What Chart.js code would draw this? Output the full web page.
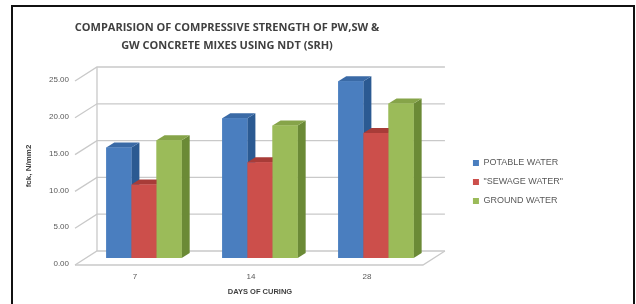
<!DOCTYPE html>
<html>
<head>
<meta charset="utf-8">
<script src="https://cdn.jsdelivr.net/npm/chart.js@4.4.1/dist/chart.umd.min.js"></script>
<style>
    html, body { margin: 0; padding: 0; background: #fff; }
    #wrap { position: relative; width: 636px; height: 304px; overflow: hidden; }
    #frame { position: absolute; left: 11px; top: 5px; width: 620px; height: 310px; border: 2px solid #111; border-bottom: none; }
    #myChart { position: absolute; left: 0; top: 0; }
</style>
</head>
<body>
<div id="wrap">
    <div id="frame"></div>
    <canvas id="myChart" width="636" height="304"></canvas>
</div>
<script>
// Data
const days = ['7', '14', '28'];
const potableWater = [15, 19, 24];
const sewageWater = [10, 13, 17];
const groundWater = [16, 18, 21];
const seriesNames = ['POTABLE WATER', '"SEWAGE WATER"', 'GROUND WATER'];
const titleLines = ['COMPARISION OF COMPRESSIVE STRENGTH OF PW,SW &', 'GW CONCRETE MIXES USING NDT (SRH)'];

// colours for front / side / top of the 3d bars
const frontColors = ['#4a7ebf', '#cc4f4b', '#9bbb59'];
const sideColors = ['#2b5a92', '#8e2f2c', '#6b8a36'];
const topColors = ['#3a6aa6', '#a83c38', '#86a449'];

// back wall, side wall and floor of the 3d box
const wallPlugin = {
    id: 'wall',
    beforeDatasetsDraw(chart) {
        const { ctx, chartArea: a, scales: { y } } = chart;
        const d = 11, e = 7;
        ctx.save();
        ctx.strokeStyle = '#c9c9c9';
        ctx.lineWidth = 1.3;
        y.ticks.forEach(t => {
            const py = y.getPixelForValue(t.value);
            ctx.beginPath();
            ctx.moveTo(a.left - d, py + e);
            ctx.lineTo(a.left + d, py - e);
            ctx.lineTo(a.right + d, py - e);
            ctx.stroke();
        });
        const y0 = y.getPixelForValue(y.min);
        const yTop = y.getPixelForValue(y.max);
        ctx.beginPath();
        ctx.moveTo(a.left + d, y0 - e);
        ctx.lineTo(a.left + d, yTop - e);
        ctx.moveTo(a.left - d, y0 + e);
        ctx.lineTo(a.right - d, y0 + e);
        ctx.lineTo(a.right + d, y0 - e);
        ctx.stroke();
        ctx.restore();
    }
};

// side and top faces, redrawn bar by bar so nearer bars cover the ones behind
const depthPlugin = {
    id: 'depth',
    afterDatasetsDraw(chart) {
        const ctx = chart.ctx;
        const dx = 8, dy = 5;
        ctx.save();
        days.forEach((_, i) => {
            chart.data.datasets.forEach((ds, di) => {
                const bar = chart.getDatasetMeta(di).data[i];
                const { x, y, base, width } = bar.getProps(['x', 'y', 'base', 'width'], true);
                const x0 = x - width / 2, x1 = x + width / 2;
                ctx.fillStyle = sideColors[di];
                ctx.beginPath();
                ctx.moveTo(x1, y);
                ctx.lineTo(x1 + dx, y - dy);
                ctx.lineTo(x1 + dx, base - dy);
                ctx.lineTo(x1, base);
                ctx.closePath();
                ctx.fill();
                ctx.fillStyle = topColors[di];
                ctx.beginPath();
                ctx.moveTo(x0, y);
                ctx.lineTo(x0 + dx, y - dy);
                ctx.lineTo(x1 + dx, y - dy);
                ctx.lineTo(x1, y);
                ctx.closePath();
                ctx.fill();
                bar.draw(ctx);
            });
        });
        ctx.restore();
    }
};

// two line title centred over the plot like in the original
const titlePlugin = {
    id: 'bigTitle',
    afterDraw(chart) {
        const ctx = chart.ctx;
        ctx.save();
        ctx.font = 'bold 11px "Open Sans"';
        ctx.fillStyle = '#404040';
        ctx.textAlign = 'center';
        ctx.textBaseline = 'middle';
        titleLines.forEach((line, i) => ctx.fillText(line, 227, 28 + i * 18));
        ctx.restore();
    }
};

const ctx = document.getElementById('myChart').getContext('2d');
const myChart = new Chart(ctx, {
    type: 'bar',
    data: {
        labels: days,
        datasets: [
            { label: seriesNames[0], data: potableWater, backgroundColor: frontColors[0] },
            { label: seriesNames[1], data: sewageWater, backgroundColor: frontColors[1] },
            { label: seriesNames[2], data: groundWater, backgroundColor: frontColors[2] }
        ]
    },
    options: {
        responsive: false,
        animation: false,
        layout: { padding: { top: 74, bottom: 14, left: 0, right: 63 } },
        datasets: { bar: { barPercentage: 1, categoryPercentage: 0.65 } },
        plugins: {
            title: { display: false },
            tooltip: { enabled: false },
            legend: {
                position: 'right',
                maxWidth: 160,
                labels: {
                    boxWidth: 6,
                    boxHeight: 6,
                    padding: 10,
                    color: '#595959',
                    font: { family: 'Liberation Sans', size: 9 }
                }
            }
        },
        scales: {
            x: {
                grid: { display: false, drawTicks: false },
                border: { display: false },
                ticks: { padding: 14, labelOffset: -9, color: '#595959', font: { family: 'Liberation Sans', size: 8 } },
                title: { display: true, text: 'DAYS OF CURING', color: '#404040', padding: { bottom: -6 }, font: { family: 'Liberation Sans', size: 7.5, weight: 'bold' } },
                afterFit(scale) { scale.height = 32; }
            },
            y: {
                min: 0,
                max: 25,
                grid: { display: false, drawTicks: false },
                border: { display: false },
                ticks: { stepSize: 5, padding: 17, labelOffset: 6, color: '#595959', font: { family: 'Liberation Sans', size: 8 }, callback: v => v.toFixed(2) },
                title: { display: true, text: 'fck, N/mm2', color: '#404040', padding: { top: 24 }, font: { family: 'Liberation Sans', size: 8, weight: 'bold' } },
                afterFit(scale) { scale.width = 86; }
            },
            spacer: {
                type: 'linear',
                position: 'right',
                display: true,
                grid: { display: false, drawTicks: false },
                border: { display: false },
                ticks: { display: false },
                afterFit(scale) { scale.width = 29; }
            }
        }
    },
    plugins: [wallPlugin, depthPlugin, titlePlugin]
});
</script>
</body>
</html>
